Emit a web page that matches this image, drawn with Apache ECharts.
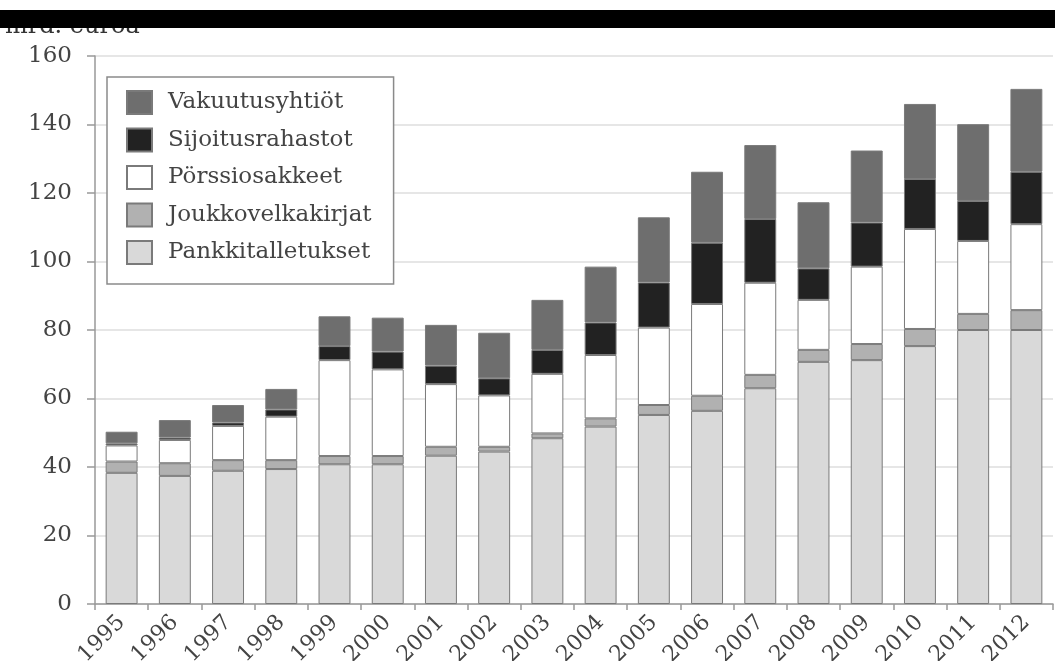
<!DOCTYPE html>
<html>
<head>
<meta charset="utf-8">
<script src="https://cdn.jsdelivr.net/npm/echarts@6/dist/echarts.min.js"></script>
<style>
  html, body { margin: 0; padding: 0; background: #fff; }
  #chart { width: 1055px; height: 661px; }
</style>
</head>
<body>
<div id="chart"></div>
<script>
// Kotitalouksien rahoitusvarat, mrd. euroa
const years = ['1995','1996','1997','1998','1999','2000','2001','2002','2003','2004','2005','2006','2007','2008','2009','2010','2011','2012'];
const pankkitalletukset = [38.3, 37.4, 38.9, 39.4, 40.8, 40.8, 43.3, 44.5, 48.4, 51.8, 55.2, 56.4, 63.0, 70.7, 71.2, 75.3, 80.0, 80.0];
const joukkovelkakirjat = [3.3, 3.7, 3.1, 2.6, 2.4, 2.4, 2.6, 1.4, 1.4, 2.4, 2.9, 4.4, 3.9, 3.5, 4.7, 5.0, 4.7, 5.8];
const porssiosakkeet = [4.7, 6.8, 10.0, 12.7, 28.0, 25.3, 18.3, 15.0, 17.4, 18.5, 22.6, 26.8, 26.9, 14.6, 22.6, 29.2, 21.3, 25.1];
const sijoitusrahastot = [0.6, 0.7, 1.0, 2.1, 4.1, 5.2, 5.4, 5.0, 7.0, 9.5, 13.2, 17.9, 18.6, 9.2, 12.9, 14.6, 11.7, 15.3];
const vakuutusyhtiot = [3.4, 5.1, 5.1, 6.0, 8.7, 9.9, 11.9, 13.3, 14.6, 16.3, 19.0, 20.7, 21.6, 19.3, 21.0, 21.9, 22.4, 24.2];
const legendOrder = ['Vakuutusyhtiöt', 'Sijoitusrahastot', 'Pörssiosakkeet', 'Joukkovelkakirjat', 'Pankkitalletukset'];

const FONT = '"DejaVu Serif", serif';
const EDGE = '#7a7a7a';

function layer(name, data, color) {
  return {
    name: name,
    type: 'bar',
    stack: 'total',
    barWidth: '60%',
    data: data,
    itemStyle: { color: color, borderColor: EDGE, borderWidth: 1 },
    emphasis: { disabled: true }
  };
}

const chart = echarts.init(document.getElementById('chart'), null, { renderer: 'canvas' });
chart.setOption({
  animation: false,
  backgroundColor: '#ffffff',
  textStyle: { fontFamily: FONT },
  grid: { left: 95, right: 2, top: 56, bottom: 57, containLabel: false, outerBoundsMode: 'none' },
  legend: {
    data: legendOrder,
    orient: 'vertical',
    left: 107,
    top: 77,
    padding: [13, 22, 19, 19],
    itemWidth: 25,
    itemHeight: 23,
    itemGap: 12.5,
    backgroundColor: '#ffffff',
    borderColor: '#8a8a8a',
    borderWidth: 1.5,
    icon: 'rect',
    textStyle: { fontFamily: FONT, fontSize: 23, color: '#444', padding: [0, 0, 0, 11] },
    selectedMode: false
  },
  xAxis: {
    type: 'category',
    data: years,
    axisLine: { lineStyle: { color: '#999', width: 1.5 } },
    axisTick: { show: true, length: 6, lineStyle: { color: '#999', width: 1.5 } },
    axisLabel: { rotate: 45, margin: 15, fontFamily: FONT, fontSize: 22, color: '#444' }
  },
  yAxis: {
    type: 'value',
    min: 0,
    max: 160,
    interval: 20,
    axisLine: { show: true, lineStyle: { color: '#999', width: 1.5 } },
    axisTick: { show: true, length: 8, lineStyle: { color: '#999', width: 1.5 } },
    axisLabel: { margin: 23, fontFamily: FONT, fontSize: 23, color: '#444' },
    splitLine: { lineStyle: { color: '#e6e6e6', width: 2 } }
  },
  series: [
    layer('Pankkitalletukset', pankkitalletukset, '#d9d9d9'),
    layer('Joukkovelkakirjat', joukkovelkakirjat, '#b1b1b1'),
    layer('Pörssiosakkeet', porssiosakkeet, '#ffffff'),
    layer('Sijoitusrahastot', sijoitusrahastot, '#222222'),
    layer('Vakuutusyhtiöt', vakuutusyhtiot, '#6e6e6e')
  ],
  graphic: [
    {
      type: 'text',
      left: 5,
      top: 15,
      z: 5,
      style: { text: 'mrd. euroa', fontFamily: FONT, fontSize: 24, fill: '#333' }
    },
    {
      type: 'rect',
      z: 10,
      shape: { x: 0, y: 10, width: 1055, height: 18 },
      style: { fill: '#000' }
    }
  ]
});
</script>
</body>
</html>
